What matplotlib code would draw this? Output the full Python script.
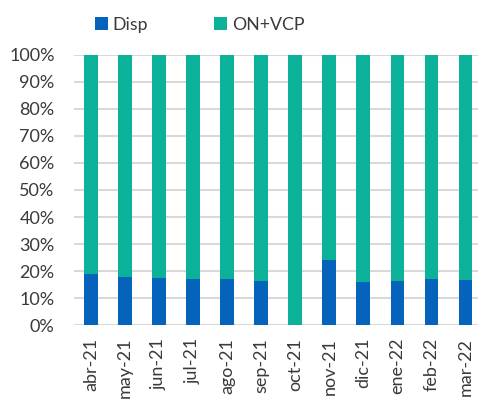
import matplotlib
matplotlib.use("Agg")
import matplotlib.pyplot as plt
from matplotlib.ticker import FuncFormatter
import numpy as np

months = ["abr-21", "may-21", "jun-21", "jul-21", "ago-21", "sep-21",
          "oct-21", "nov-21", "dic-21", "ene-22", "feb-22", "mar-22"]
disp = [18.8, 18.0, 17.5, 17.1, 17.1, 16.4, 0.0, 24.3, 15.9, 16.4, 17.1, 16.8]
on_vcp = [100 - d for d in disp]

c_disp = "#0563BB"
c_on = "#0BB199"

plt.rcParams['font.family'] = ['Lato', 'DejaVu Sans']

fig = plt.figure(figsize=(4.78, 4.01), dpi=100)
ax = fig.add_axes([74/478, 1 - 325.3/401, (478 - 74)/478, (325.3 - 54.7)/401])

x = np.arange(len(months))
w = 0.4
ax.bar(x, disp, w, color=c_disp, label="Disp", zorder=3)
ax.bar(x, on_vcp, w, bottom=disp, color=c_on, label="ON+VCP", zorder=3)

ax.set_ylim(0, 100)
ax.set_xlim(-0.5, 11.37)
ax.set_yticks(np.arange(0, 101, 10))
ax.yaxis.set_major_formatter(FuncFormatter(lambda v, p: f"{int(v)}%"))
ax.set_xticks(x)
ax.set_xticklabels(months, rotation=90)
ax.grid(axis='y', color="#D9D9D9", linewidth=1.5, zorder=0)
for s in ax.spines.values():
    s.set_visible(False)
ax.tick_params(axis='both', length=0, labelsize=13, colors="#3A3A3A")
ax.tick_params(axis='x', pad=9)
ax.tick_params(axis='y', pad=14)

leg = fig.legend(loc='upper left', bbox_to_anchor=(79/478, 1 - 1/401), ncol=2,
                 frameon=False, fontsize=12.8, handlelength=0.75, handleheight=0.75,
                 handletextpad=0.25, columnspacing=3.7, labelcolor="#3A3A3A")

fig.savefig("out.png", dpi=100)
